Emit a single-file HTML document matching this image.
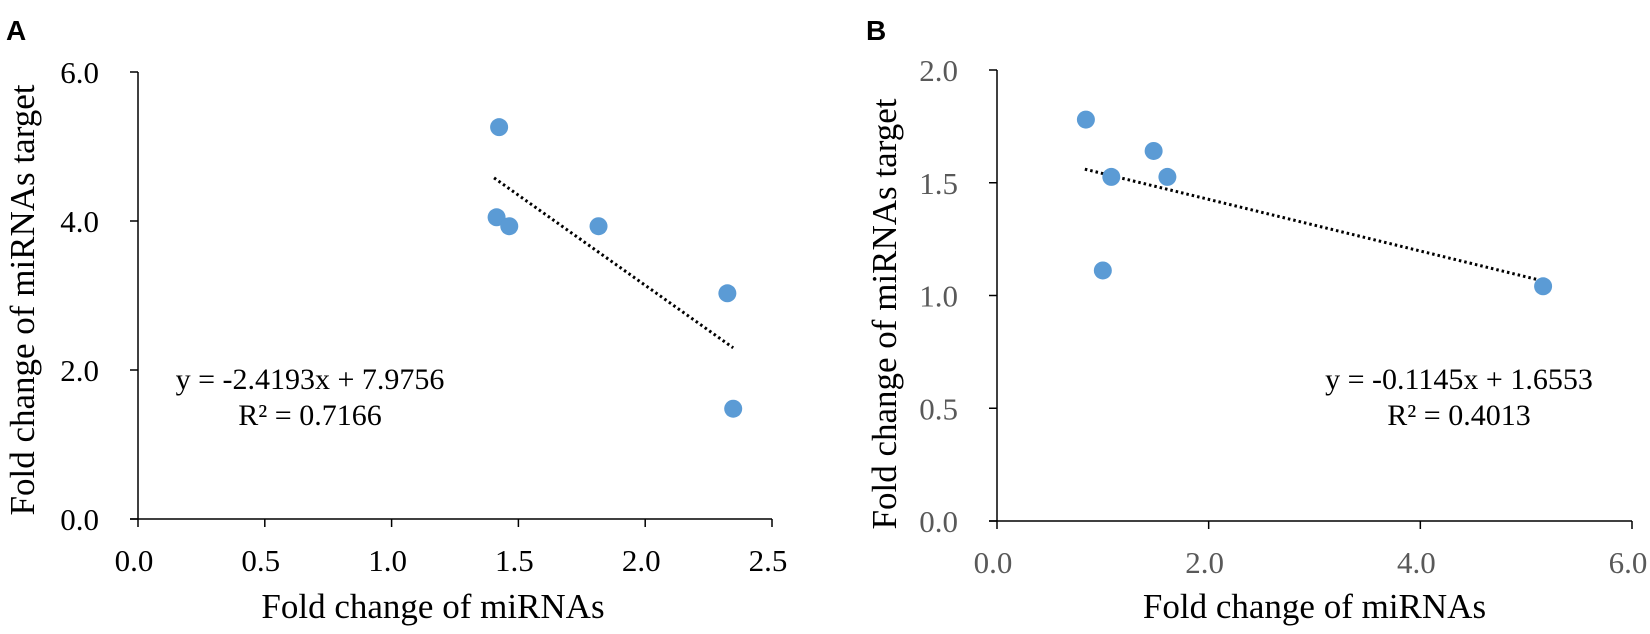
<!DOCTYPE html>
<html><head><meta charset="utf-8"><style>
body{margin:0;background:#fff;}
svg{display:block;font-family:"Liberation Serif",serif;}
</style></head><body>
<svg id="c" width="1650" height="634" viewBox="0 0 1650 634" xmlns="http://www.w3.org/2000/svg"></svg>
<script>
const aX=[1.424,1.414,1.464,1.816,2.324,2.347];
const aY=[5.26,4.05,3.93,3.93,3.03,1.48];
const aXTicks=[0,0.5,1.0,1.5,2.0,2.5];
const aYTicks=[0,2,4,6];
const aFit=[-2.4193,7.9756];
const bX=[0.84,1.08,1.48,1.61,1.0,5.16];
const bY=[1.78,1.526,1.641,1.526,1.111,1.041];
const bXTicks=[0,2,4,6];
const bYTicks=[0,0.5,1.0,1.5,2.0];
const bFit=[-0.1145,1.6553];
const NS="http://www.w3.org/2000/svg";
const svg=document.getElementById('c');
function el(t,a,p){const e=document.createElementNS(NS,t);for(const k in a)e.setAttribute(k,a[k]);(p||svg).appendChild(e);return e;}
function panel(o){
  const g=el('g',{});
  
  
  const sx=v=>o.x0+(v-o.xmin)/(o.xmax-o.xmin)*(o.x1-o.x0);
  const sy=v=>o.y0-(v-o.ymin)/(o.ymax-o.ymin)*(o.y0-o.y1);
  const L=el('text',{x:o.lx,y:40,'font-family':'Liberation Sans, sans-serif','font-weight':'bold','font-size':28,fill:'#000'},g);L.textContent=o.letter;
  
  
  const ya=el('line',{x1:o.x0,y1:o.y0,x2:o.x0,y2:o.y1,stroke:'#000','stroke-width':1.5},g);
  
  
  const xa=el('line',{x1:o.x0-8,y1:o.y0,x2:o.x1,y2:o.y0,stroke:'#000','stroke-width':1.5},g);
  
  
  o.yt.forEach(v=>{
    el('line',{x1:o.x0-8,y1:sy(v),x2:o.x0,y2:sy(v),stroke:'#000','stroke-width':1.5},g);
    const t=el('text',{x:o.x0-39,y:sy(v)+11,'text-anchor':'end','font-size':31,fill:o.tc},g);
    t.textContent=v.toFixed(1);
    
    
  });
  o.xt.forEach(v=>{
    el('line',{x1:sx(v),y1:o.y0,x2:sx(v),y2:o.y0+8,stroke:'#000','stroke-width':1.5},g);
    const t=el('text',{x:sx(v)-4,y:o.y0+52,'text-anchor':'middle','font-size':31,fill:o.tc},g);
    t.textContent=v.toFixed(1);
    
    
  });
  const xmn=Math.min(...o.xs)-0.01,xmx=Math.max(...o.xs);
  const tl=el('line',{x1:sx(xmn),y1:sy(o.fit[0]*xmn+o.fit[1]),x2:sx(xmx),y2:sy(o.fit[0]*xmx+o.fit[1]),stroke:'#000','stroke-width':3,'stroke-dasharray':'2.5 3'},g);
  
  
  o.xs.forEach((v,i)=>{
    const c=el('circle',{cx:sx(v),cy:sy(o.ys[i]),r:9,fill:'#5b9bd5'},g);
    
    
  });
  const e1=el('text',{x:o.ex,y:389,'text-anchor':'middle','font-size':30,fill:'#000'},g);
  e1.textContent=o.eq;
  
  
  const e2=el('text',{x:o.ex,y:425,'text-anchor':'middle','font-size':30,fill:'#000'},g);
  e2.textContent=o.r2;
  
  
  const xt=el('text',{x:(o.x0+o.x1)/2+o.xto,y:618,'text-anchor':'middle','font-size':35,fill:'#000'},g);
  xt.textContent='Fold change of miRNAs';
  
  
  const yt=el('text',{x:0,y:0,'text-anchor':'middle','font-size':35,fill:'#000',transform:`translate(${o.ytx},${o.yty}) rotate(-90)`},g);
  yt.textContent='Fold change of miRNAs target';
  
  
}
panel({name:'panel-a',letter:'A',lx:6,x0:138,x1:772,y0:519,y1:72,xmin:0,xmax:2.5,ymin:0,ymax:6,xt:aXTicks,yt:aYTicks,xs:aX,ys:aY,fit:aFit,tc:'#000',ex:310,eq:'y = -2.4193x + 7.9756',r2:'R² = 0.7166',xto:-22,ytx:34,yty:300});
panel({name:'panel-b',letter:'B',lx:866,x0:997,x1:1632,y0:521,y1:70,xmin:0,xmax:6,ymin:0,ymax:2,xt:bXTicks,yt:bYTicks,xs:bX,ys:bY,fit:bFit,tc:'#595959',ex:1459,eq:'y = -0.1145x + 1.6553',r2:'R² = 0.4013',xto:0,ytx:896,yty:314});
</script>
</body></html>
